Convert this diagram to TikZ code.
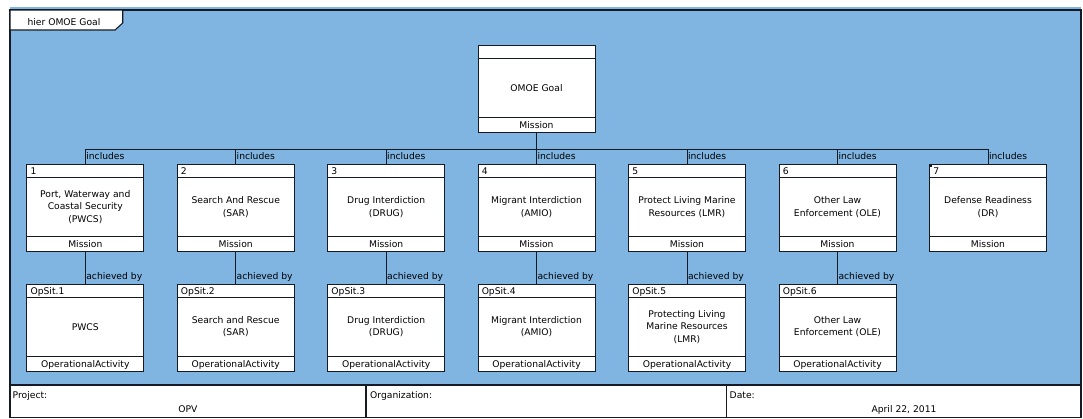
\documentclass[tikz,border=0pt]{standalone}
\usepackage{fontspec}
\setmainfont{DejaVu Sans}
\definecolor{diagbg}{RGB}{128,180,225}
\definecolor{linecol}{RGB}{22,26,36}
\tikzset{
  txt/.style={font=\fontsize{9.2}{12.5}\selectfont, inner sep=0pt, text=black},
  umlframe/.style={draw=linecol, line width=0.9pt, fill=white,
    minimum width=117pt, minimum height=87pt, inner sep=0pt},
  divider/.style={draw=linecol, line width=0.9pt},
  conn/.style={draw=linecol, line width=0.9pt},
  framebox/.style={draw=linecol, line width=1.6pt},
}
% a three-compartment block: name, centre x, centre y, header, body, footer
\newcommand\umlblock[6]{%
  \node[umlframe] (#1) at (#2,#3) {};
  \draw[divider] ([yshift=-13.3pt]#1.north west) -- ([yshift=-13.3pt]#1.north east);
  \draw[divider] ([yshift=15.3pt]#1.south west) -- ([yshift=15.3pt]#1.south east);
  \node[txt, anchor=base west] (#1-head) at ([xshift=4pt,yshift=-10.4pt]#1.north west) {#4};
  \node[txt, align=center] (#1-body) at ([yshift=1.1pt]#1.center) {#5};
  \node[txt, anchor=base] (#1-foot) at ([yshift=4.2pt]#1.south) {#6};
}
\begin{document}
\begin{tikzpicture}[x=1pt,y=-1pt]
\useasboundingbox (0,0) rectangle (1083,418);

% diagram frame and title block
\fill[diagbg] (10,7) rectangle (1081,385);
\fill[white] (10,385) rectangle (1081,417.5);
\draw[framebox] (10,10) rectangle (1081,417.5);
\draw[framebox] (10,385) -- (1081,385);
\draw[framebox] (366,385) -- (366,417.5);
\draw[framebox] (726.5,385) -- (726.5,417.5);

% name tab
\draw[framebox, line width=1.1pt, fill=white]
  (10,10) -- (122.7,10) -- (122.7,23) -- (115,30) -- (10,30) -- cycle;
\node[txt, anchor=base] (tab) at (64,25) {hier OMOE Goal};

% title block fields
\node[txt, anchor=base west] (projlbl) at (12.5,398.5) {Project:};
\node[txt, anchor=base] (projval) at (188,412.5) {OPV};
\node[txt, anchor=base west] (orglbl) at (370,398.5) {Organization:};
\node[txt, anchor=base west] (datelbl) at (729.5,398.5) {Date:};
\node[txt, anchor=base] (dateval) at (904,412.5) {April 22, 2011};

% goal
\umlblock{goal}{536.5}{89}{}{OMOE Goal}{Mission}

% missions
\umlblock{m1}{85.3}{208.1}{1}{Port, Waterway and\\Coastal Security\\(PWCS)}{Mission}
\umlblock{m2}{235.7}{208.1}{2}{Search And Rescue\\(SAR)}{Mission}
\umlblock{m3}{386.2}{208.1}{3}{Drug Interdiction\\(DRUG)}{Mission}
\umlblock{m4}{536.5}{208.1}{4}{Migrant Interdiction\\(AMIO)}{Mission}
\umlblock{m5}{687.0}{208.1}{5}{Protect Living Marine\\Resources (LMR)}{Mission}
\umlblock{m6}{837.5}{208.1}{6}{Other Law\\Enforcement (OLE)}{Mission}
\umlblock{m7}{988.0}{208.1}{7}{Defense Readiness\\(DR)}{Mission}
\fill[linecol] (m7.north west) rectangle ++(2.6,2.6);

% operational activities
\umlblock{o1}{85.3}{327.8}{OpSit.1}{PWCS}{OperationalActivity}
\umlblock{o2}{235.7}{327.8}{OpSit.2}{Search and Rescue\\(SAR)}{OperationalActivity}
\umlblock{o3}{386.2}{327.8}{OpSit.3}{Drug Interdiction\\(DRUG)}{OperationalActivity}
\umlblock{o4}{536.5}{327.8}{OpSit.4}{Migrant Interdiction\\(AMIO)}{OperationalActivity}
\umlblock{o5}{687.0}{327.8}{OpSit.5}{Protecting Living\\Marine Resources\\(LMR)}{OperationalActivity}
\umlblock{o6}{837.5}{327.8}{OpSit.6}{Other Law\\Enforcement (OLE)}{OperationalActivity}

% includes: goal to missions
\coordinate (bus) at (0,149);
\draw[conn] (goal.south) -- (goal.south |- bus);
\draw[conn] (m1.north |- bus) -- (m7.north |- bus);
\foreach \i in {1,...,7}{
  \draw[conn] (m\i.north |- bus) -- (m\i.north);
  \node[txt, anchor=base west] (inc\i) at ([xshift=0.8pt,yshift=4.6pt]m\i.north) {includes};
}

% achieved by: missions to activities
\foreach \i in {1,...,6}{
  \draw[conn] (m\i.south) -- (o\i.north);
  \node[txt, anchor=base west] (ach\i) at ([xshift=0.8pt,yshift=4.8pt]o\i.north) {achieved by};
}
\end{tikzpicture}
\end{document}
